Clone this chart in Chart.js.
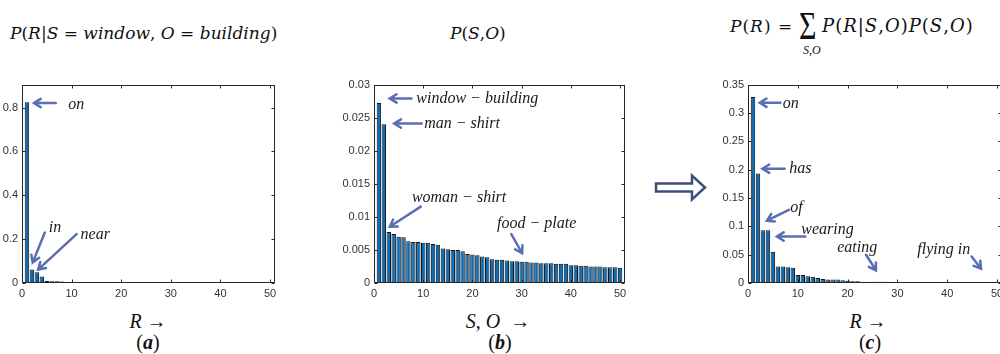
<!DOCTYPE html>
<html>
<head>
<meta charset="utf-8">
<title>relation priors</title>
<script src="https://cdn.jsdelivr.net/npm/chart.js@4.4.1/dist/chart.umd.min.js"></script>
<style>
  html { overflow: hidden; }
  body { margin: 0; width: 1020px; height: 354px; background: #fff; position: relative; }
  canvas { position: absolute; }
  .m { position: absolute; font-family: "Liberation Serif", serif; color: #111; white-space: nowrap; }
  .m i { font-style: italic; }
  .ttl { font-family: "DejaVu Serif", serif; font-size: 17px; line-height: 20px; }
  .lab { font-size: 20px; text-align: center; width: 120px; }
</style>
</head>
<body>

<div class="m ttl" style="left:10px; top:23px;"><i>P</i>(<i>R</i>|<i>S</i> = <i>window</i>, <i>O</i> = <i>building</i>)</div>
<div class="m ttl" style="left:450px; top:23px;"><i>P</i>(<i>S</i>,<i>O</i>)</div>
<div class="m ttl" style="left:730px; top:16px; letter-spacing:1px;"><i>P</i>(<i>R</i>) =</div>
<div class="m" style="left:799px; top:6px; font-size:40px; line-height:40px; transform:scaleX(0.75); transform-origin:left top;">&Sigma;</div>
<div class="m" style="left:803px; top:43px; font-size:12px; line-height:14px;"><i>S</i>,<i>O</i></div>
<div class="m ttl" style="left:822px; top:16px; font-size:18px; letter-spacing:1px;"><i>P</i>(<i>R</i>|<i>S</i>,<i>O</i>)<i>P</i>(<i>S</i>,<i>O</i>)</div>

<canvas id="chartA" width="290" height="226" style="left:0px; top:74px;"></canvas>
<canvas id="chartB" width="300" height="227" style="left:335px; top:74px;"></canvas>
<canvas id="chartC" width="310" height="227" style="left:705px; top:74px;"></canvas>

<svg style="position:absolute; left:650px; top:170px;" width="60" height="34">
  <polygon points="6,13.5 42,13.5 42,5.5 55,17.5 42,29.5 42,21.5 6,21.5" fill="#fff" stroke="#3d4f7c" stroke-width="2.5" stroke-linejoin="miter"/>
</svg>

<div class="m lab" style="left:88px; top:310px;"><i>R</i> &rarr;</div>
<div class="m lab" style="left:438px; top:310px;"><i>S</i>, <i>O</i> &nbsp;&rarr;</div>
<div class="m lab" style="left:808px; top:310px;"><i>R</i> &rarr;</div>
<div class="m lab" style="left:88px; top:331px;">(<b><i>a</i></b>)</div>
<div class="m lab" style="left:440px; top:331px;">(<b><i>b</i></b>)</div>
<div class="m lab" style="left:810px; top:331px;">(<b><i>c</i></b>)</div>

<script>
// rank positions (1..50)
var ranks = [1,2,3,4,5,6,7,8,9,10,11,12,13,14,15,16,17,18,19,20,
             21,22,23,24,25,26,27,28,29,30,31,32,33,34,35,36,37,38,39,40,
             41,42,43,44,45,46,47,48,49,50];

// (a) P(R | S=window, O=building)
var relGivenPair = [0.824, 0.062, 0.049, 0.030, 0.009, 0.008, 0.008, 0.007, 0.004, 0.003,
                    0.003, 0.002, 0.002, 0.002, 0.0015, 0.0015, 0.001, 0.0008, 0.0006, 0.0005,
                    0.0004, 0.0004, 0.0003, 0.0003, 0.0003, 0.0002, 0.0002, 0.0002, 0.0002, 0.0002,
                    0.0001, 0.0001, 0.0001, 0.0001, 0.0001, 0.0001, 0.0001, 0.0001, 0.0001, 0.0001,
                    0.0001, 0.0001, 0.0001, 0.0001, 0.0001, 0.0001, 0.0001, 0.0001, 0.0001, 0.0001];

// (b) P(S, O)
var pairPrior = [0.0272, 0.0240, 0.0077, 0.0074, 0.0070, 0.0069, 0.0063, 0.0062, 0.0062, 0.0061,
                 0.0061, 0.0059, 0.0058, 0.0052, 0.0051, 0.0050, 0.0050, 0.0048, 0.0044, 0.0043,
                 0.0042, 0.0040, 0.0039, 0.0036, 0.0035, 0.0035, 0.0034, 0.0033, 0.0033, 0.0032,
                 0.0032, 0.0031, 0.0031, 0.0030, 0.0030, 0.0030, 0.0029, 0.0029, 0.0029, 0.0027,
                 0.0027, 0.0026, 0.0026, 0.0025, 0.0025, 0.0025, 0.0024, 0.0024, 0.0024, 0.0023];

// (c) P(R)
var relPrior = [0.328, 0.193, 0.093, 0.093, 0.055, 0.029, 0.029, 0.028, 0.027, 0.014,
                0.014, 0.012, 0.011, 0.009, 0.007, 0.006, 0.006, 0.006, 0.005, 0.004,
                0.003, 0.003, 0.002, 0.002, 0.002, 0.002, 0.002, 0.002, 0.0015, 0.0015,
                0.0012, 0.0012, 0.0011, 0.0011, 0.0010, 0.0010, 0.0010, 0.0009, 0.0009, 0.0009,
                0.0008, 0.0008, 0.0008, 0.0007, 0.0007, 0.0007, 0.0007, 0.0006, 0.0006, 0.0006];

var xTicks = [0, 10, 20, 30, 40, 50];
var xTickLabels = ['0', '10', '20', '30', '40', '50'];

var yTicksA = [0, 0.2, 0.4, 0.6, 0.8];
var yLabelsA = ['0', '0.2', '0.4', '0.6', '0.8'];
var yTicksB = [0, 0.005, 0.01, 0.015, 0.02, 0.025, 0.03];
var yLabelsB = ['0', '0.005', '0.01', '0.015', '0.02', '0.025', '0.03'];
var yTicksC = [0, 0.05, 0.1, 0.15, 0.2, 0.25, 0.3, 0.35];
var yLabelsC = ['0', '0.05', '0.1', '0.15', '0.2', '0.25', '0.3', '0.35'];

// annotations: text anchor, arrow tail, arrow tip (data units)
var notesA = [
  { text: 'on',   at: [9.3, 0.812],  from: [6.8, 0.821], to: [2.4, 0.821] },
  { text: 'in',   at: [5.4, 0.25],   from: [4.6, 0.23],  to: [2.15, 0.093] },
  { text: 'near', at: [11.8, 0.22],  from: [11.0, 0.223], to: [3.25, 0.061] }
];
var notesB = [
  { text: 'window \u2212 building', at: [8.6, 0.0278], from: [7.6, 0.0279], to: [3.2, 0.0279] },
  { text: 'man \u2212 shirt',       at: [10.2, 0.0241], from: [9.7, 0.0241], to: [4.1, 0.0241] },
  { text: 'woman \u2212 shirt',     at: [7.7, 0.0129], from: [9.5, 0.01155], to: [3.2, 0.0085] },
  { text: 'food \u2212 plate',      at: [25.0, 0.0089], from: [27.9, 0.0074], to: [30.1, 0.0045] }
];
var notesC = [
  { text: 'on',        at: [7.0, 0.3166], from: [6.5, 0.318], to: [2.35, 0.318] },
  { text: 'has',       at: [8.3, 0.2016], from: [7.35, 0.2016], to: [2.9, 0.2016] },
  { text: 'of',        at: [8.5, 0.132],  from: [8.2, 0.129], to: [3.8, 0.110] },
  { text: 'wearing',   at: [10.7, 0.0937], from: [11.5, 0.082], to: [5.8, 0.082] },
  { text: 'eating',    at: [17.9, 0.0616], from: [23.7, 0.0498], to: [25.7, 0.0222] },
  { text: 'flying in', at: [34.0, 0.0586], from: [44.9, 0.0468], to: [46.8, 0.0252] }
];

var tickFont = { family: 'Liberation Sans', size: 11 };
var tickColor = '#333';

// MATLAB style box with inward ticks, plus arrows and labels
var boxNotes = {
  id: 'boxNotes',
  afterDraw: function(chart, args, opts) {
    var ctx = chart.ctx, a = chart.chartArea, sx = chart.scales.x, sy = chart.scales.y;
    var L = Math.round(a.left) + 0.5, R = Math.round(a.right) - 0.5;
    var T = Math.round(a.top) + 0.5, B = Math.round(a.bottom) - 0.5;
    ctx.save();
    ctx.strokeStyle = '#262626';
    ctx.lineWidth = 1;
    ctx.strokeRect(L, T, R - L, B - T);
    ctx.beginPath();
    opts.xt.forEach(function(v) {
      var px = Math.round(sx.getPixelForValue(v)) + 0.5;
      ctx.moveTo(px, B); ctx.lineTo(px, B - 3);
      ctx.moveTo(px, T); ctx.lineTo(px, T + 3);
    });
    opts.yt.forEach(function(v) {
      var py = Math.round(sy.getPixelForValue(v)) + 0.5;
      ctx.moveTo(L, py); ctx.lineTo(L + 3, py);
      ctx.moveTo(R, py); ctx.lineTo(R - 3, py);
    });
    ctx.stroke();

    opts.notes.forEach(function(n) {
      var x1 = sx.getPixelForValue(n.from[0]), y1 = sy.getPixelForValue(n.from[1]);
      var x2 = sx.getPixelForValue(n.to[0]), y2 = sy.getPixelForValue(n.to[1]);
      var ang = Math.atan2(y2 - y1, x2 - x1), h = 8;
      ctx.strokeStyle = '#5a6db5';
      ctx.lineWidth = 2.5;
      ctx.lineCap = 'round';
      ctx.beginPath();
      ctx.moveTo(x1, y1); ctx.lineTo(x2, y2);
      ctx.moveTo(x2 - h * Math.cos(ang - 0.55), y2 - h * Math.sin(ang - 0.55));
      ctx.lineTo(x2, y2);
      ctx.lineTo(x2 - h * Math.cos(ang + 0.55), y2 - h * Math.sin(ang + 0.55));
      ctx.stroke();
      ctx.fillStyle = '#1a1a1a';
      ctx.font = 'italic 16px "Liberation Serif"';
      ctx.textAlign = 'left';
      ctx.textBaseline = 'middle';
      ctx.fillText(n.text, sx.getPixelForValue(n.at[0]), sy.getPixelForValue(n.at[1]));
    });
    ctx.restore();
  }
};

function makeChart(id, values, yMax, yTicks, yLabels, notes, yWidth, xHeight, padRight) {
  var pts = ranks.map(function(r, i) { return { x: r, y: values[i] }; });
  return new Chart(document.getElementById(id), {
    type: 'bar',
    data: {
      datasets: [{
        data: pts,
        backgroundColor: '#0b6cb7',
        borderColor: '#111',
        borderWidth: 1,
        barPercentage: 0.9,
        categoryPercentage: 1.0
      }]
    },
    options: {
      responsive: false,
      animation: false,
      layout: { padding: { top: 10, right: padRight, left: 0, bottom: 0 } },
      plugins: {
        legend: { display: false },
        tooltip: { enabled: false },
        boxNotes: { notes: notes, xt: xTicks, yt: yTicks }
      },
      scales: {
        x: {
          type: 'linear', min: 0, max: 51, offset: false,
          grid: { display: false, drawTicks: false }, border: { display: false },
          ticks: { font: tickFont, color: tickColor, padding: 4, maxRotation: 0, autoSkip: false,
                   callback: function(v, i) { return xTickLabels[i]; } },
          afterBuildTicks: function(s) { s.ticks = xTicks.map(function(v) { return { value: v }; }); },
          afterFit: function(s) { s.height = xHeight; }
        },
        y: {
          min: 0, max: yMax,
          grid: { display: false, drawTicks: false }, border: { display: false },
          ticks: { font: tickFont, color: tickColor, padding: 4, autoSkip: false,
                   callback: function(v, i) { return yLabels[i]; } },
          afterBuildTicks: function(s) { s.ticks = yTicks.map(function(v) { return { value: v }; }); },
          afterFit: function(s) { s.width = yWidth; }
        }
      }
    },
    plugins: [boxNotes]
  });
}

makeChart('chartA', relGivenPair, 0.905, yTicksA, yLabelsA, notesA, 22, 17, 15);
makeChart('chartB', pairPrior, 0.03, yTicksB, yLabelsB, notesB, 39, 18, 10);
makeChart('chartC', relPrior, 0.35, yTicksC, yLabelsC, notesC, 43, 18, 13);
</script>
</body>
</html>
